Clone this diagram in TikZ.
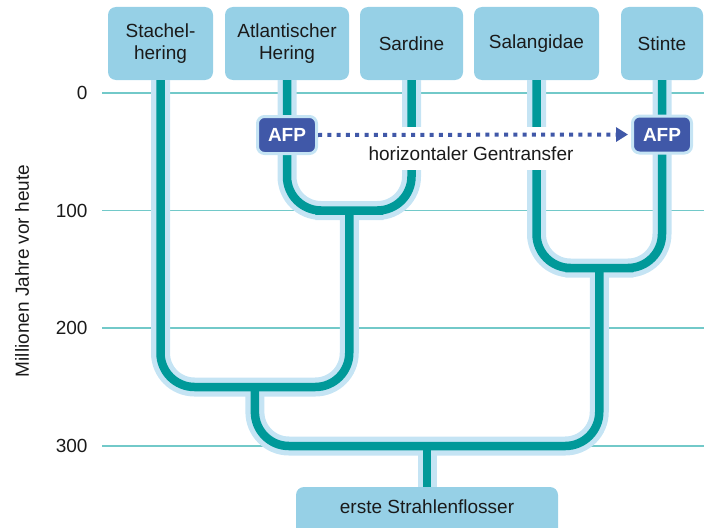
\documentclass[tikz,border=0pt]{standalone}
\usepackage{fontspec}
\setmainfont{Liberation Sans}
\usetikzlibrary{arrows.meta}
\definecolor{boxblue}{HTML}{96D0E6}
\definecolor{halo}{HTML}{C5E4F4}
\definecolor{teal}{HTML}{009999}
\definecolor{gridteal}{HTML}{72C9C9}
\definecolor{afpblue}{HTML}{4058A8}
\definecolor{ink}{HTML}{1A1A1A}
\tikzset{
  every node/.style={font=\fontsize{19}{22}\selectfont, text=ink},
  taxon/.style={fill=boxblue, rounded corners=8pt, inner sep=0pt, align=center,
    minimum height=73pt},
  afp/.style={fill=afpblue, draw=halo, line width=3pt, rounded corners=7pt,
    minimum width=59pt, minimum height=37pt, inner sep=0pt,
    text=white, font=\fontsize{19}{22}\selectfont\bfseries},
  gridline/.style={draw=gridteal, line width=1.3pt},
  haloline/.style={draw=halo, line width=19pt, rounded corners=34pt},
  coreline/.style={draw=teal, line width=8.5pt, rounded corners=34pt},
  transfer/.style={draw=afpblue, line width=4pt, dash pattern=on 4pt off 5.3pt,
    -{Triangle[length=12pt, width=14pt]}, shorten >=3pt},
  ticklabel/.style={anchor=east},
}
\begin{document}
\begin{tikzpicture}[x=1pt, y=-1pt]
\useasboundingbox (0,0) rectangle (711,527);

% time axis: one line every 100 million years
\foreach \t/\yy in {0/93, 100/210.5, 200/328, 300/446}{
  \draw[gridline] (102,\yy) -- (704,\yy);
  \node[ticklabel] (tick\t) at (91,\yy) {\t};
}
\node[rotate=90] (axis) at (22,271) {Millionen Jahre vor heute};

% taxa
\node[taxon, minimum width=105pt] (sta) at (160.5,43.5) {Stachel-\\hering};
\node[taxon, minimum width=124pt] (atl) at (287,43.5) {Atlantischer\\Hering};
\node[taxon, minimum width=103pt] (sar) at (411.5,43.5) {Sardine};
\node[taxon, minimum width=125pt] (sal) at (536.5,43.5) {Salangidae};
\node[taxon, minimum width=82pt] (sti) at (662,43.5) {Stinte};
\node[taxon, minimum width=262pt, minimum height=50pt] (root) at (427,512) {};
\node (roottext) at (427,507) {erste Strahlenflosser};

% common ancestors
\coordinate (n1) at (349.25,210.5);
\coordinate (n2) at (254.9,387);
\coordinate (n3) at (599.25,268);
\coordinate (n4) at (427,446);

% branches: light halo first, teal core on top
\newcommand\lineagepaths[1]{
  \draw[#1] (atl.south) |- (n1) -| (sar.south);
  \draw[#1] (sta.south) |- (n2) -| (n1);
  \draw[#1] (sal.south) |- (n3) -| (sti.south);
  \draw[#1] (n2) |- (n4) -| (n3);
  \draw[#1] (n4) -- (root.north);
}
\lineagepaths{haloline}
\lineagepaths{coreline}

% horizontal gene transfer of the AFP gene
\node[fill=white, anchor=base, text height=33pt, text depth=10pt,
  inner ysep=0pt, inner xsep=22pt] (hgt) at (471,160) {horizontaler Gentransfer};
\node[afp] (afpA) at (287,135) {AFP};
\node[afp] (afpS) at (662,134.5) {AFP};
\draw[transfer] (afpA.east) -- (afpS.west);
\end{tikzpicture}
\end{document}
